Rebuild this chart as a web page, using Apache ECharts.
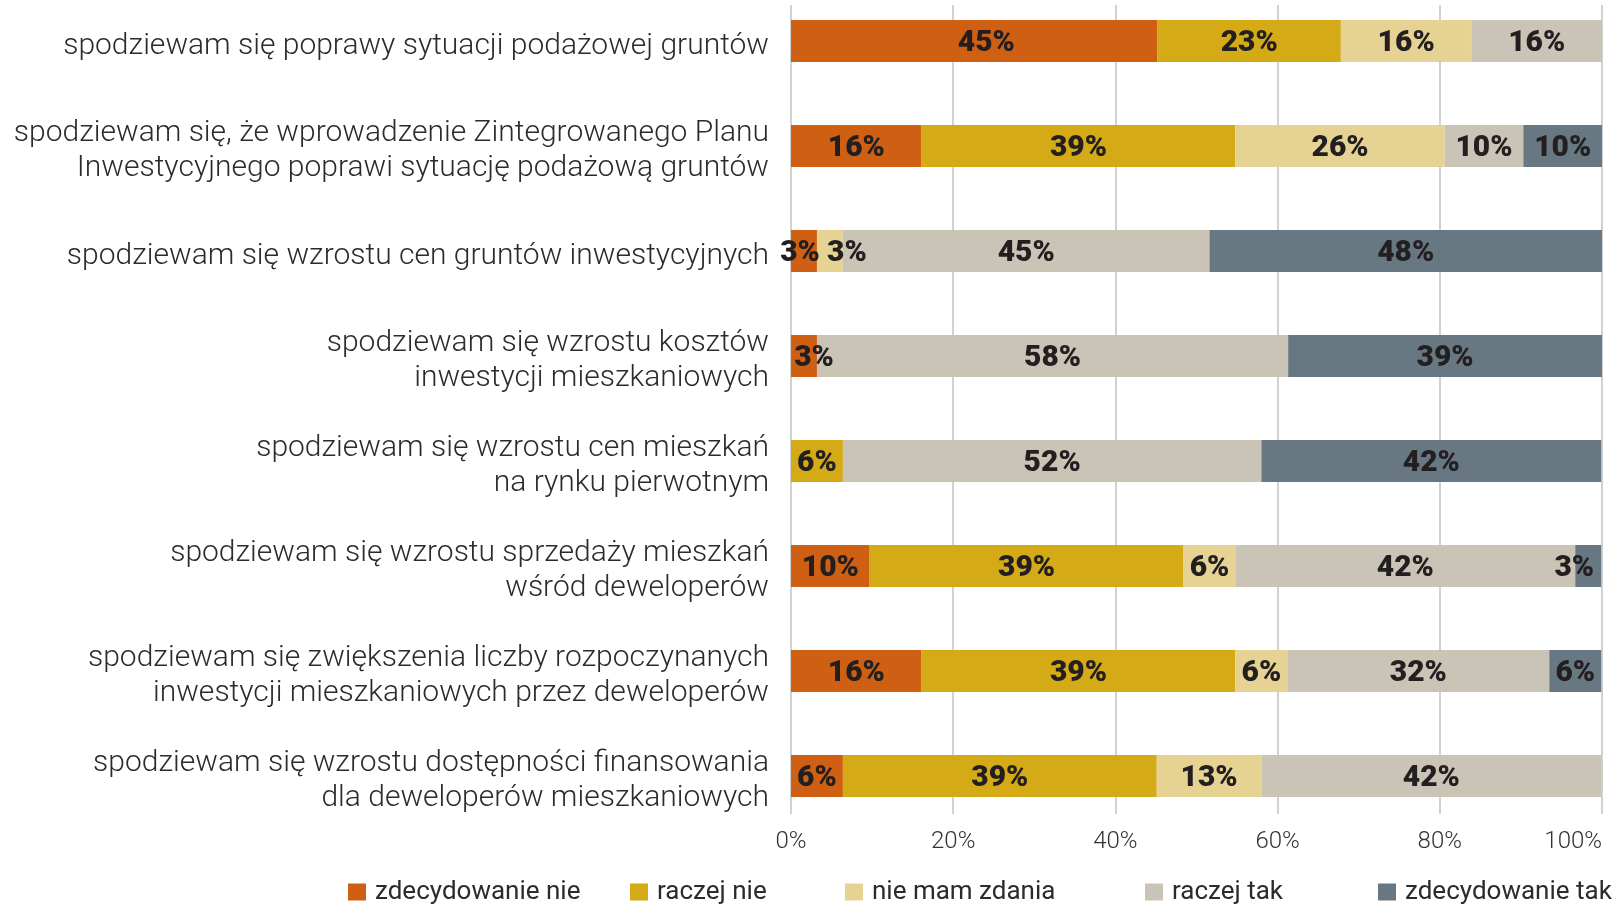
<!DOCTYPE html>
<html>
<head>
<meta charset="utf-8">
<script src="https://cdn.jsdelivr.net/npm/echarts@6/dist/echarts.min.js"></script>
<style>
  html, body { margin: 0; padding: 0; background: #fff; }
  #chart { width: 1620px; height: 913px; }
</style>
</head>
<body>
<div id="chart"></div>
<script>
// categories, top to bottom
var categories = [
  'spodziewam się poprawy sytuacji podażowej gruntów',
  'spodziewam się, że wprowadzenie Zintegrowanego Planu\nInwestycyjnego poprawi sytuację podażową gruntów',
  'spodziewam się wzrostu cen gruntów inwestycyjnych',
  'spodziewam się wzrostu kosztów\ninwestycji mieszkaniowych',
  'spodziewam się wzrostu cen mieszkań\nna rynku pierwotnym',
  'spodziewam się wzrostu sprzedaży mieszkań\nwśród deweloperów',
  'spodziewam się zwiększenia liczby rozpoczynanych\ninwestycji mieszkaniowych przez deweloperów',
  'spodziewam się wzrostu dostępności finansowania\ndla deweloperów mieszkaniowych'
];

// shares in %
var zdecydowanieNie = [45.2, 16.1, 3.2, 3.2, 0, 9.7, 16.1, 6.4];
var raczejNie = [22.6, 38.7, 0, 0, 6.4, 38.7, 38.7, 38.7];
var nieMamZdania = [16.1, 25.8, 3.2, 0, 0, 6.4, 6.4, 12.9];
var raczejTak = [16.1, 9.7, 45.2, 58.1, 51.6, 41.9, 32.3, 41.9];
var zdecydowanieTak = [0, 9.7, 48.4, 38.7, 41.9, 3.2, 6.4, 0];

var xTicks = [0, 20, 40, 60, 80, 100];

var seriesNames = ['zdecydowanie nie', 'raczej nie', 'nie mam zdania', 'raczej tak', 'zdecydowanie tak'];
var seriesData = [zdecydowanieNie, raczejNie, nieMamZdania, raczejTak, zdecydowanieTak];
var colors = ['#CF5F12', '#D4AA16', '#E6D393', '#C9C4B5', '#687883'];

// nudge a few labels so they sit like in the original: [series, row, dx]
var labelNudge = [[0, 0, 12], [0, 2, -4], [2, 2, 17], [0, 3, 10], [4, 5, -14]];

var FONT = 'Roboto';
var legendLeft = [348, 630, 845, 1145, 1378];

var chart = echarts.init(document.getElementById('chart'));

var series = seriesData.map(function (d, i) {
  var data = d.map(function (v, row) {
    var item = { value: v };
    labelNudge.forEach(function (n) {
      if (n[0] === i && n[1] === row) item.label = { offset: [n[2], 2] };
    });
    return item;
  });
  return {
    name: seriesNames[i],
    type: 'bar',
    stack: 'total',
    xAxisIndex: 0,
    yAxisIndex: 0,
    barWidth: 42,
    data: data,
    itemStyle: { color: colors[i] },
    label: {
      show: true,
      position: 'inside',
      color: '#231f20',
      fontFamily: FONT,
      fontWeight: 900,
      fontSize: 30,
      offset: [0, 2],
      formatter: function (p) {
        return p.value > 0 ? Math.round(p.value) + '%' : '';
      }
    },
    emphasis: { disabled: true }
  };
});

var legends = seriesNames.map(function (n, i) {
  return {
    data: [n],
    left: legendLeft[i],
    top: 879,
    padding: 0,
    icon: 'rect',
    itemWidth: 18,
    itemHeight: 17,
    selectedMode: false,
    textStyle: {
      fontFamily: FONT,
      fontSize: 26,
      color: '#2b2b2b',
      padding: [0, 0, 0, 4]
    }
  };
});

var option = {
  animation: false,
  backgroundColor: '#fff',
  legend: legends,
  grid: [
    // bars
    { left: 791, right: 18, top: -11.5, height: 840, outerBoundsMode: 'none' },
    // grid lines + percent ticks
    { left: 791, right: 18, top: 5, height: 809, outerBoundsMode: 'none' },
    // category labels, sitting a touch lower than the bars
    { left: 791, right: 18, top: -6.5, height: 840, outerBoundsMode: 'none' }
  ],
  xAxis: [
    { gridIndex: 0, type: 'value', min: 0, max: 100, show: false },
    {
      gridIndex: 1, type: 'value', min: 0, max: 100, interval: 20,
      axisLine: { show: false },
      axisTick: { show: false },
      splitLine: { show: true, lineStyle: { color: '#c2c2c2', width: 1.5 } },
      axisLabel: {
        margin: 16,
        fontFamily: FONT,
        fontWeight: 300,
        fontSize: 24,
        color: '#333',
        alignMaxLabel: 'right',
        formatter: function (v) { return xTicks.indexOf(v) >= 0 ? v + '%' : ''; }
      }
    },
    { gridIndex: 2, type: 'value', min: 0, max: 100, show: false }
  ],
  yAxis: [
    { gridIndex: 0, type: 'category', inverse: true, data: categories, show: false },
    { gridIndex: 1, type: 'value', show: false, min: 0, max: 1 },
    {
      gridIndex: 2, type: 'category', inverse: true, data: categories,
      axisLine: { show: false },
      axisTick: { show: false },
      splitLine: { show: false },
      axisLabel: {
        margin: 22,
        fontFamily: FONT,
        fontWeight: 300,
        fontSize: 30,
        lineHeight: 35,
        color: '#2b2b2b',
        align: 'right'
      }
    }
  ],
  series: series
};

chart.setOption(option);
</script>
</body>
</html>
